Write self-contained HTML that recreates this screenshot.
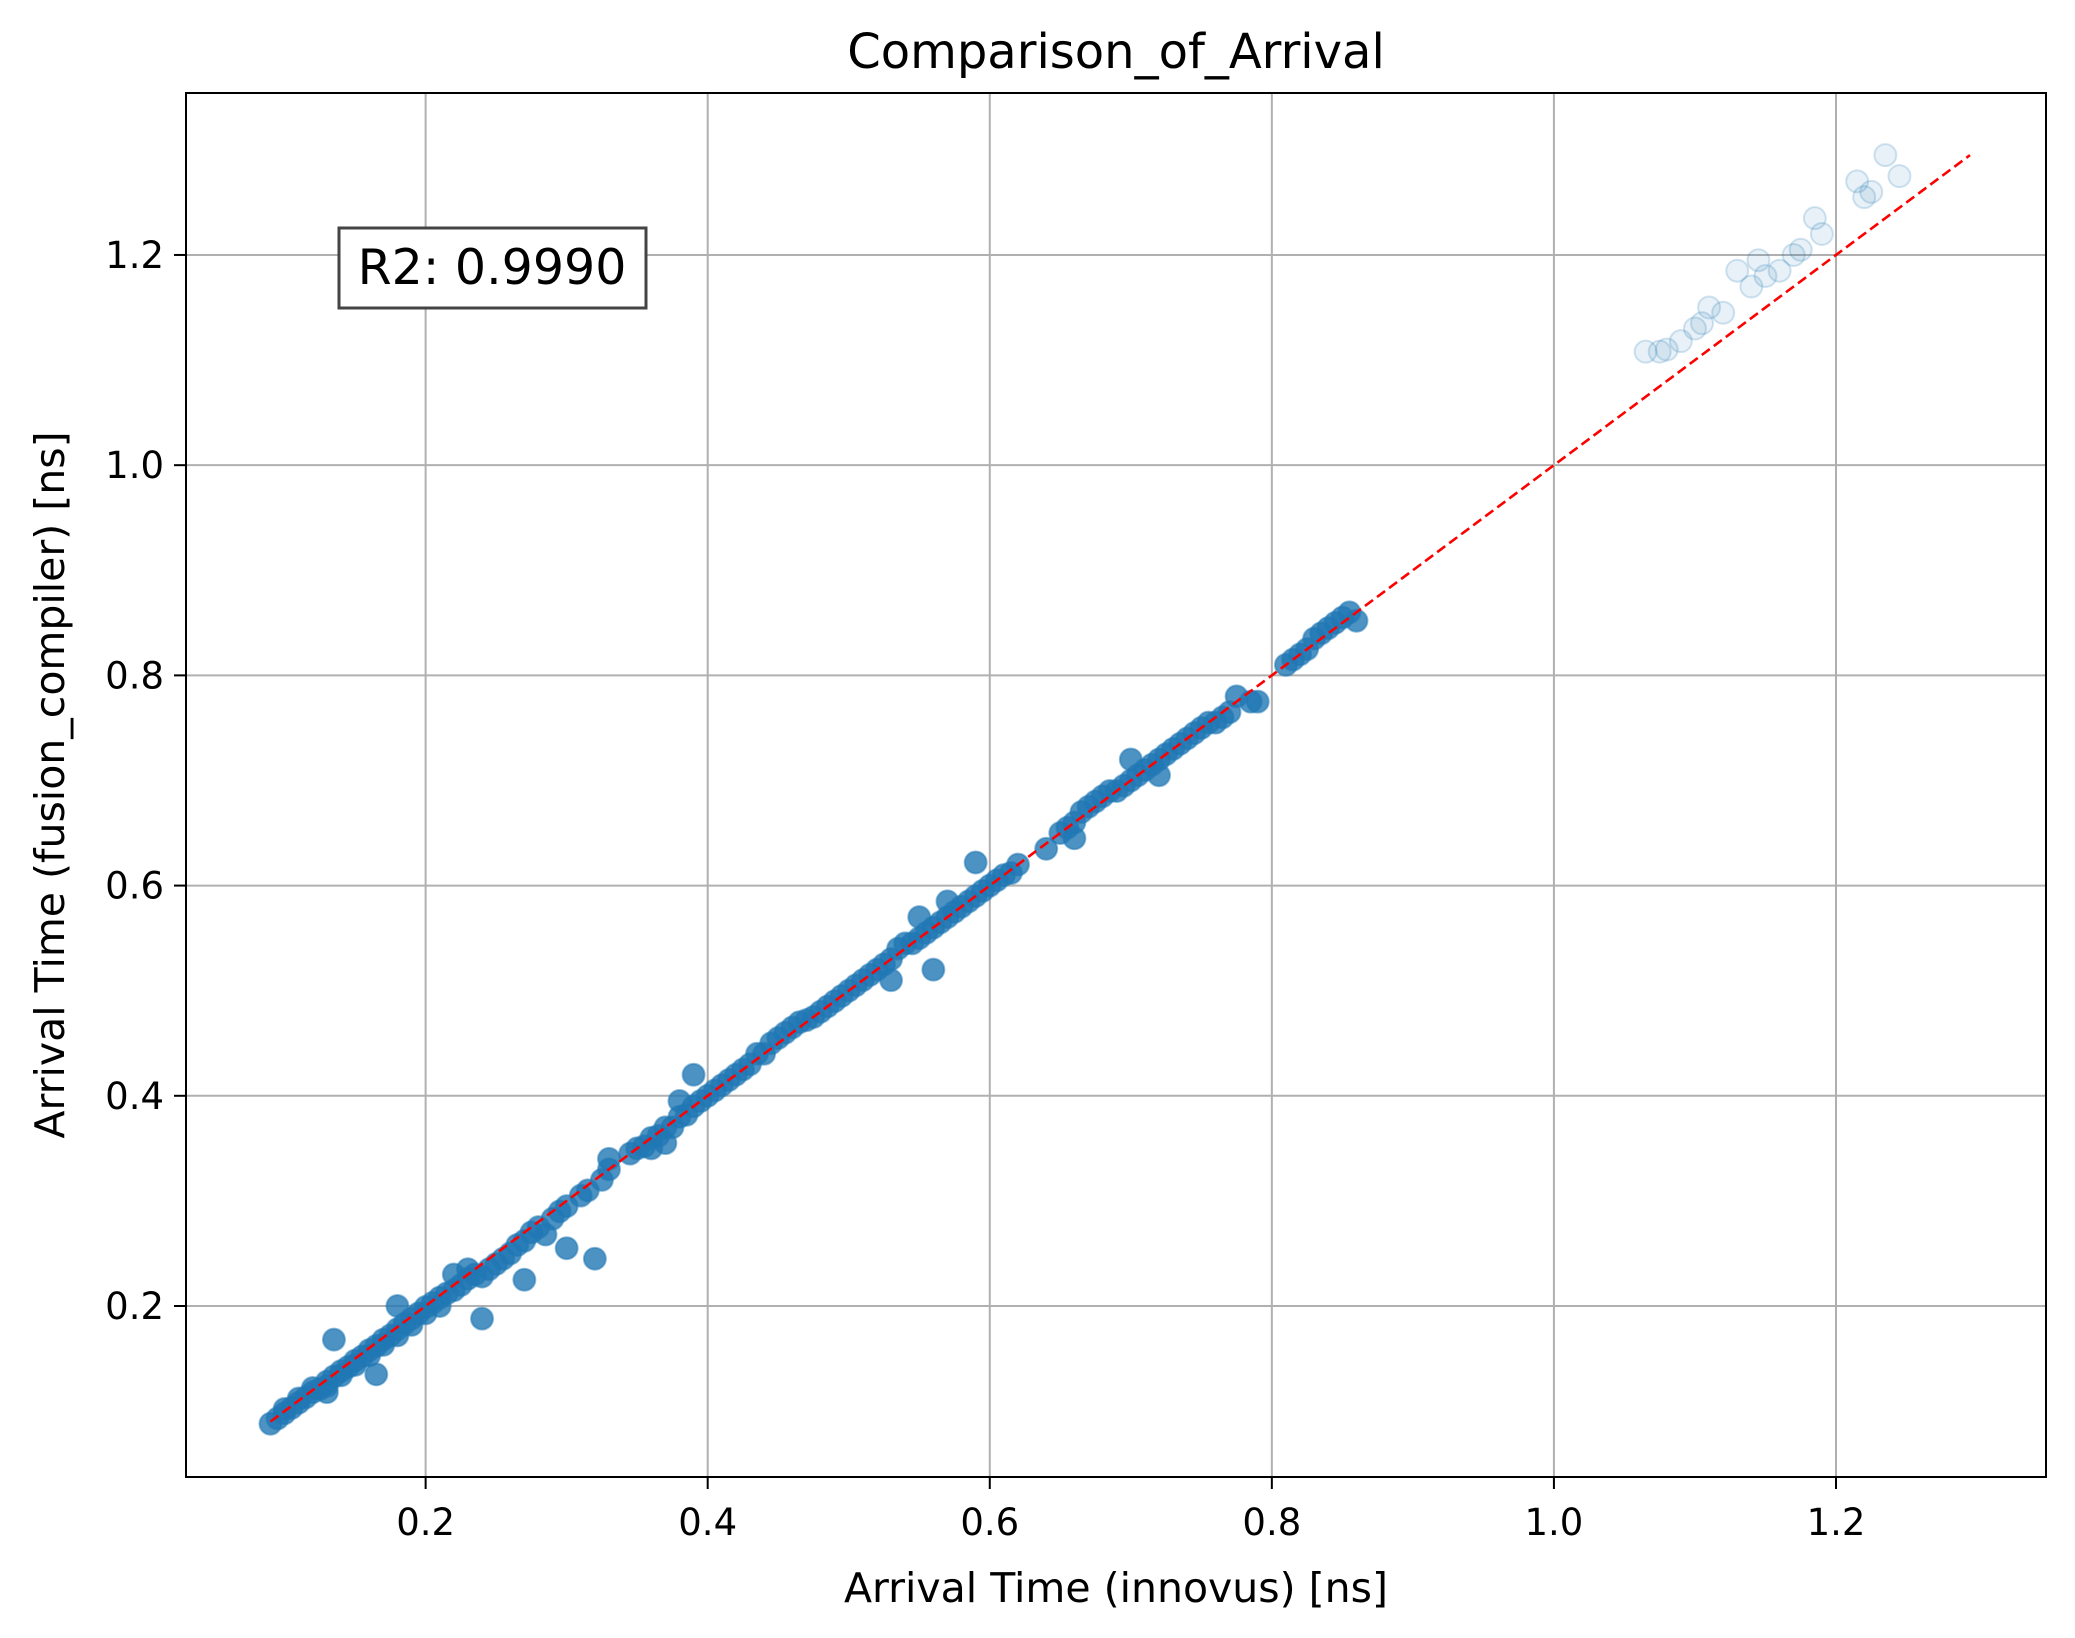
<!DOCTYPE html>
<html><head><meta charset="utf-8"><style>
html,body{margin:0;padding:0;background:#fff}
svg{display:block;font-family:"DejaVu Sans","Liberation Sans",sans-serif}
</style></head><body>
<svg id="chart" width="2075" height="1638" viewBox="0 0 2075 1638">
<rect width="2075" height="1638" fill="#fff"/>
<g id="grid"></g>
<g id="points"></g>
<g id="fit"></g>
<rect x="186" y="93" width="1860" height="1384" fill="none" stroke="#000" stroke-width="2"/>
<g id="ticks"></g>
<text x="1116" y="68" font-size="48" text-anchor="middle">Comparison_of_Arrival</text>
<text x="1116" y="1602" font-size="41" text-anchor="middle">Arrival Time (innovus) [ns]</text>
<text x="0" y="0" font-size="41" text-anchor="middle" transform="translate(64,785) rotate(-90)">Arrival Time (fusion_compiler) [ns]</text>
<g>
<rect x="339" y="228" width="307" height="80" fill="#fff" stroke="#444" stroke-width="3"/>
<text x="492" y="284" font-size="49" text-anchor="middle">R2: 0.9990</text>
</g>
</svg>
<script>
const xTicks=[0.2,0.4,0.6,0.8,1.0,1.2];
const yTicks=[0.2,0.4,0.6,0.8,1.0,1.2];
const xTickLabels=["0.2","0.4","0.6","0.8","1.0","1.2"];
const yTickLabels=["0.2","0.4","0.6","0.8","1.0","1.2"];
const xs=[0.090,0.095,0.100,0.100,0.105,0.110,0.110,0.115,0.120,0.120,0.125,0.130,0.130,0.135,0.140,0.140,0.145,0.150,0.150,0.155,0.160,0.160,0.165,0.170,0.170,0.175,0.180,0.180,0.185,0.190,0.190,0.195,0.200,0.200,0.205,0.210,0.210,0.215,0.220,0.225,0.230,0.235,0.240,0.245,0.250,0.135,0.180,0.165,0.240,0.130,0.220,0.230,
0.255,0.26,0.265,0.27,0.27,0.275,0.28,0.285,0.29,0.295,0.30,0.30,0.31,0.315,0.32,0.325,0.33,0.33,
0.345,0.35,0.355,0.36,0.365,0.37,0.375,0.38,0.385,0.39,0.39,0.395,0.40,0.405,0.41,0.415,0.42,0.425,0.43,0.37,0.36,0.38,
0.435,0.44,0.445,0.45,0.455,0.46,0.465,0.47,0.475,0.48,
0.485,0.49,0.495,0.50,0.505,0.51,0.515,0.52,0.525,0.53,0.535,0.54,0.545,0.55,0.555,0.56,0.56,0.565,0.57,0.575,0.58,0.585,0.59,0.59,0.595,0.60,0.605,0.61,0.615,0.62,0.53,0.55,0.57,
0.64,0.65,0.655,0.66,0.665,0.67,0.675,0.68,0.685,0.69,0.695,0.70,0.705,0.71,0.715,0.72,0.725,0.73,0.735,0.74,0.745,0.75,0.755,0.76,0.765,0.77,0.775,0.785,0.79,0.66,0.70,0.72,
0.81,0.815,0.82,0.825,0.83,0.835,0.84,0.845,0.85,0.855,0.86,
1.065,1.075,1.08,1.09,1.10,1.105,1.11,1.12,1.13,1.14,1.145,1.15,1.16,1.17,1.175,1.185,1.19,1.215,1.22,1.225,1.235,1.245];
const ys=[0.088,0.093,0.098,0.102,0.103,0.108,0.112,0.113,0.118,0.122,0.121,0.128,0.124,0.133,0.138,0.134,0.142,0.148,0.144,0.152,0.158,0.153,0.162,0.168,0.163,0.172,0.178,0.172,0.183,0.188,0.182,0.193,0.199,0.193,0.203,0.208,0.200,0.212,0.215,0.220,0.226,0.230,0.228,0.235,0.240,0.168,0.200,0.135,0.188,0.118,0.230,0.235,
0.245,0.25,0.258,0.262,0.225,0.27,0.275,0.268,0.283,0.29,0.295,0.255,0.305,0.31,0.245,0.32,0.33,0.34,
0.345,0.35,0.352,0.36,0.362,0.37,0.37,0.38,0.382,0.39,0.42,0.395,0.40,0.405,0.41,0.415,0.42,0.425,0.43,0.355,0.35,0.395,
0.44,0.44,0.45,0.455,0.46,0.465,0.47,0.472,0.475,0.48,
0.485,0.49,0.495,0.50,0.505,0.51,0.515,0.52,0.525,0.53,0.54,0.545,0.545,0.55,0.555,0.56,0.52,0.565,0.57,0.575,0.58,0.585,0.622,0.59,0.595,0.60,0.605,0.61,0.612,0.62,0.51,0.57,0.585,
0.635,0.65,0.655,0.66,0.67,0.675,0.68,0.685,0.69,0.69,0.695,0.70,0.705,0.71,0.715,0.72,0.725,0.73,0.735,0.74,0.745,0.75,0.755,0.755,0.76,0.765,0.78,0.775,0.775,0.645,0.72,0.705,
0.81,0.815,0.82,0.825,0.835,0.84,0.845,0.85,0.855,0.86,0.852,
1.108,1.108,1.11,1.118,1.13,1.135,1.15,1.145,1.185,1.17,1.195,1.18,1.185,1.2,1.205,1.235,1.22,1.27,1.255,1.26,1.295,1.275];
const lineStart=0.09, lineEnd=1.295;

const NS="http://www.w3.org/2000/svg";
const L=186,R=2046,T=93,B=1477, xMin=0.0301, xMax=1.3489, yMin=0.0373, yMax=1.3541;
function xs2px(v){return L+(v-xMin)/(xMax-xMin)*(R-L);}
function ys2px(v){return B-(v-yMin)/(yMax-yMin)*(B-T);}
function mk(tag,attrs,parent){const e=document.createElementNS(NS,tag);for(const k in attrs)e.setAttribute(k,attrs[k]);parent.appendChild(e);return e;}
const grid=document.getElementById('grid'),ticks=document.getElementById('ticks');
xTicks.forEach((t,i)=>{const x=xs2px(t);
 const g=mk('line',{x1:x,x2:x,y1:T,y2:B,stroke:'#b0b0b0','stroke-width':2},grid);
 
 
 const tk=mk('line',{x1:x,x2:x,y1:B,y2:B+12,stroke:'#000','stroke-width':2},ticks);
 
 
 const tx=mk('text',{x:x,y:B+58,'font-size':37,'text-anchor':'middle'},ticks);tx.textContent=xTickLabels[i];
 
 
});
yTicks.forEach((t,i)=>{const y=ys2px(t);
 const g=mk('line',{x1:L,x2:R,y1:y,y2:y,stroke:'#b0b0b0','stroke-width':2},grid);
 
 
 const tk=mk('line',{x1:L-12,x2:L,y1:y,y2:y,stroke:'#000','stroke-width':2},ticks);
 
 
 const tx=mk('text',{x:L-22,y:y+13,'font-size':37,'text-anchor':'end'},ticks);tx.textContent=yTickLabels[i];
 
 
});
const pts=document.getElementById('points');
xs.forEach((v,i)=>{const dense=v<0.9;
 const c=mk('circle',{cx:xs2px(v),cy:ys2px(ys[i]),r:11,fill:'#1f77b4','fill-opacity':dense?0.8:0.1,stroke:'#1f77b4','stroke-opacity':dense?0.5:0.2,'stroke-width':2},pts);
 
 
});
const fl=mk('line',{x1:xs2px(lineStart),y1:ys2px(lineStart),x2:xs2px(lineEnd),y2:ys2px(lineEnd),stroke:'#ff0000','stroke-width':2.6,'stroke-dasharray':'10,5'},document.getElementById('fit'));


</script>
</body></html>
